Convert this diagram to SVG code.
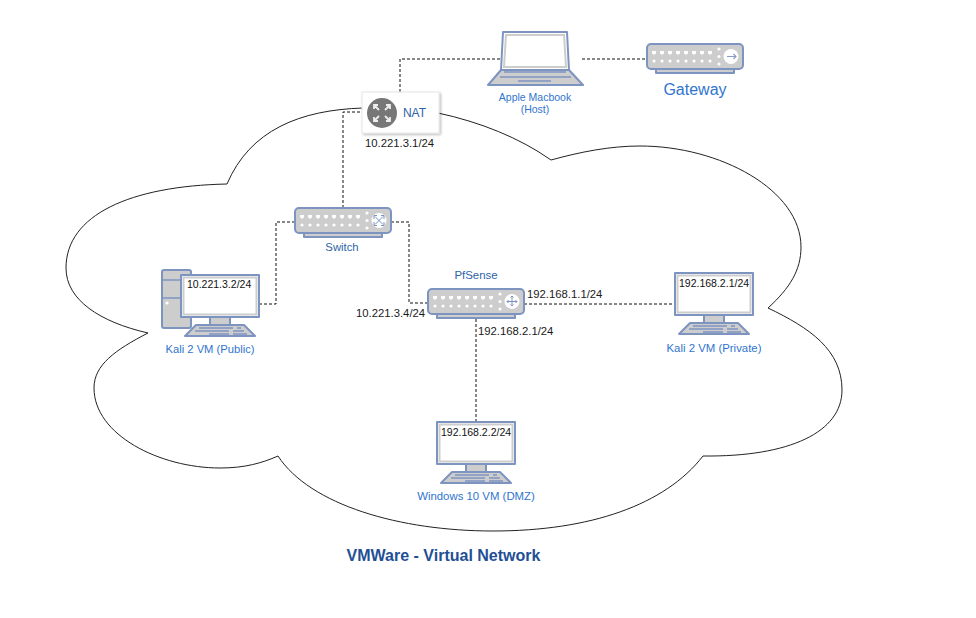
<svg xmlns="http://www.w3.org/2000/svg" xmlns:xlink="http://www.w3.org/1999/xlink" width="976" height="618" viewBox="0 0 976 618">
<style>
text{font-family:"Liberation Sans",Arial,sans-serif;font-size:11.4px}
.ip{fill:#1a1a1a;font-size:11.3px}
.sm{fill:#111;font-size:10.5px}
.lb{fill:#2f75cf;text-anchor:middle}
.dk{fill:#2d63a8;text-anchor:middle}
.o{stroke:#7d94c1;stroke-width:2;stroke-linejoin:round}
.g{fill:#cdcdcd}
.w{fill:#fff}
.bl{stroke:#7d94c1;stroke-width:1.5;fill:none}
.con{fill:none;stroke:#111;stroke-width:1;stroke-dasharray:3 2}
.pt{fill:#fff}
</style>
<defs>
<filter id="sh" x="-10%" y="-10%" width="125%" height="125%"><feDropShadow dx="1.5" dy="1.5" stdDeviation="1" flood-color="#000" flood-opacity="0.25"/></filter>
<g id="box">
<rect class="o g" x="9" y="25" width="78" height="4"/>
<rect class="o g" x="0" y="0" width="96" height="25" rx="4"/>
<g class="pt">
<path id="p" d="M5 7h4v2l-1 1.500h-2l-1-1.500z"/>
<use xlink:href="#p" x="8"/><use xlink:href="#p" x="16"/><use xlink:href="#p" x="24"/><use xlink:href="#p" x="32"/><use xlink:href="#p" x="40"/><use xlink:href="#p" x="48"/><use xlink:href="#p" x="56"/>
<circle cx="7" cy="17" r="1.600"/><circle cx="15" cy="17" r="1.600"/><circle cx="23" cy="17" r="1.600"/><circle cx="31" cy="17" r="1.600"/><circle cx="39" cy="17" r="1.600"/><circle cx="47" cy="17" r="1.600"/><circle cx="55" cy="17" r="1.600"/><circle cx="63" cy="17" r="1.600"/>
<circle cx="72" cy="5" r="1.600"/><circle cx="72" cy="12.500" r="1.600"/><circle cx="72" cy="20" r="1.600"/>
<circle cx="84" cy="12.500" r="7.500"/>
</g>
</g>
<g id="monitor">
<rect class="o w" x="0" y="0" width="78" height="42"/>
<rect x="2.500" y="2.500" width="73" height="37" fill="none" stroke="#cdcdcd" stroke-width="2"/>
<rect class="o g" x="29" y="42" width="20" height="8"/>
<path class="o g" d="M15 50H63L74 61H4Z"/>
<path class="bl" d="M18 53H52M56 53H60M14 56H48M52 56H63M28 59H48M52 59H66"/>
</g>
</defs>

<path id="cloud" fill="none" stroke="#222" stroke-width="1" d="M363 108C300 110 250 130 227 184C130 186 66 215 66 268C66 300 100 322 148 333C115 350 94 365 94 388C94 435 160 468 220 468C245 468 262 463 278 456C310 505 400 531 493 531C590 531 665 505 703 456C790 457 842 432 842 390C842 350 810 328 768 308C790 288 801 270 801 247C801 190 720 146 640 146C610 146 580 152 551 160C520 138 480 122 438 113"/>

<g id="connectors">
<path class="con" d="M400 92V59H502"/>
<path class="con" d="M582 59H647"/>
<path class="con" d="M365 112H343V208"/>
<path class="con" d="M295 222H276V304H258"/>
<path class="con" d="M391 222H409V303H428"/>
<path class="con" d="M524 304H675"/>
<path class="con" d="M476 319V422"/>
</g>

<g id="macbook">
<path class="o w" d="M503 32H567L569 70H501Z"/>
<path d="M506 35H564L566 67H504Z" fill="none" stroke="#cdcdcd" stroke-width="2"/>
<path class="o g" d="M501 70H569L583 85H488Z"/>
<path class="bl" d="M504 72H566M500 77H571M518 81H551"/>
<text class="lb" x="535" y="101" style="font-size:10.500px">Apple Macbook</text>
<text class="lb" x="535" y="113" style="font-size:10.500px">(Host)</text>
</g>

<g id="gateway">
<use xlink:href="#box" x="647" y="44"/>
<path d="M727 56.500H736M733.500 54L736 56.500L733.500 59" fill="none" stroke="#8a9cc4" stroke-width="1.100"/>
<text class="lb" x="695" y="95" style="font-size:16px">Gateway</text>
</g>

<g id="nat">
<rect x="362" y="92" width="77" height="41" fill="#fff" stroke="#e6e6e6" filter="url(#sh)"/>
<circle cx="382" cy="113" r="15" fill="#777"/>
<path d="M375 106l4 4M389 106l-4 4M375 120l4-4M389 120l-4-4M374 109v-4h4M390 109v-4h-4M374 117v4h4M390 117v4h-4" fill="none" stroke="#eee" stroke-width="1.800"/>
<text class="dk" x="414.500" y="117" style="font-size:12px">NAT</text>
<text class="ip" x="365" y="147">10.221.3.1/24</text>
</g>

<g id="switch">
<use xlink:href="#box" x="295" y="208"/>
<path d="M375 216.500L383 224.500M383 216.500L375 224.500M374 219V215.500H377M384 219V215.500H381M374 222V225.500H377M384 222V225.500H381" fill="none" stroke="#7d94c1" stroke-width="1"/>
<text class="dk" x="342" y="251" style="font-size:11.300px">Switch</text>
</g>

<g id="pfsense">
<use xlink:href="#box" x="428" y="289"/>
<path d="M512 296V306M507 301.500H517M510.500 297.500L512 296L513.500 297.500M510.500 304.500L512 306L513.500 304.500M508.500 300L507 301.500L508.500 303M515.500 300L517 301.500L515.500 303" fill="none" stroke="#7d94c1" stroke-width="1"/>
<text class="dk" x="476" y="279">PfSense</text>
<text class="ip" x="356" y="317">10.221.3.4/24</text>
<text class="ip" x="527" y="298">192.168.1.1/24</text>
<text class="ip" x="478" y="335">192.168.2.1/24</text>
</g>

<g id="kali-public">
<rect class="o g" x="162" y="270" width="29" height="58" rx="2"/>
<path class="bl" d="M162 280H182M162 298H182"/>
<circle cx="167" cy="303" r="1.600" fill="#fff"/>
<use xlink:href="#monitor" x="181" y="275"/>
<text class="sm" x="187" y="288">10.221.3.2/24</text>
<text class="lb" x="210" y="353" style="font-size:11.200px">Kali 2 VM (Public)</text>
</g>

<g id="kali-private">
<use xlink:href="#monitor" x="675" y="273"/>
<text class="sm" x="679" y="287">192.168.2.1/24</text>
<text class="lb" x="714" y="352">Kali 2 VM (Private)</text>
</g>

<g id="windows">
<use xlink:href="#monitor" x="437" y="422"/>
<text class="sm" x="441" y="436">192.168.2.2/24</text>
<text class="lb" x="476" y="500">Windows 10 VM (DMZ)</text>
</g>

<text id="title" x="443.500" y="561" text-anchor="middle" fill="#1f5096" font-weight="bold" style="font-size:16px">VMWare - Virtual Network</text>
</svg>
